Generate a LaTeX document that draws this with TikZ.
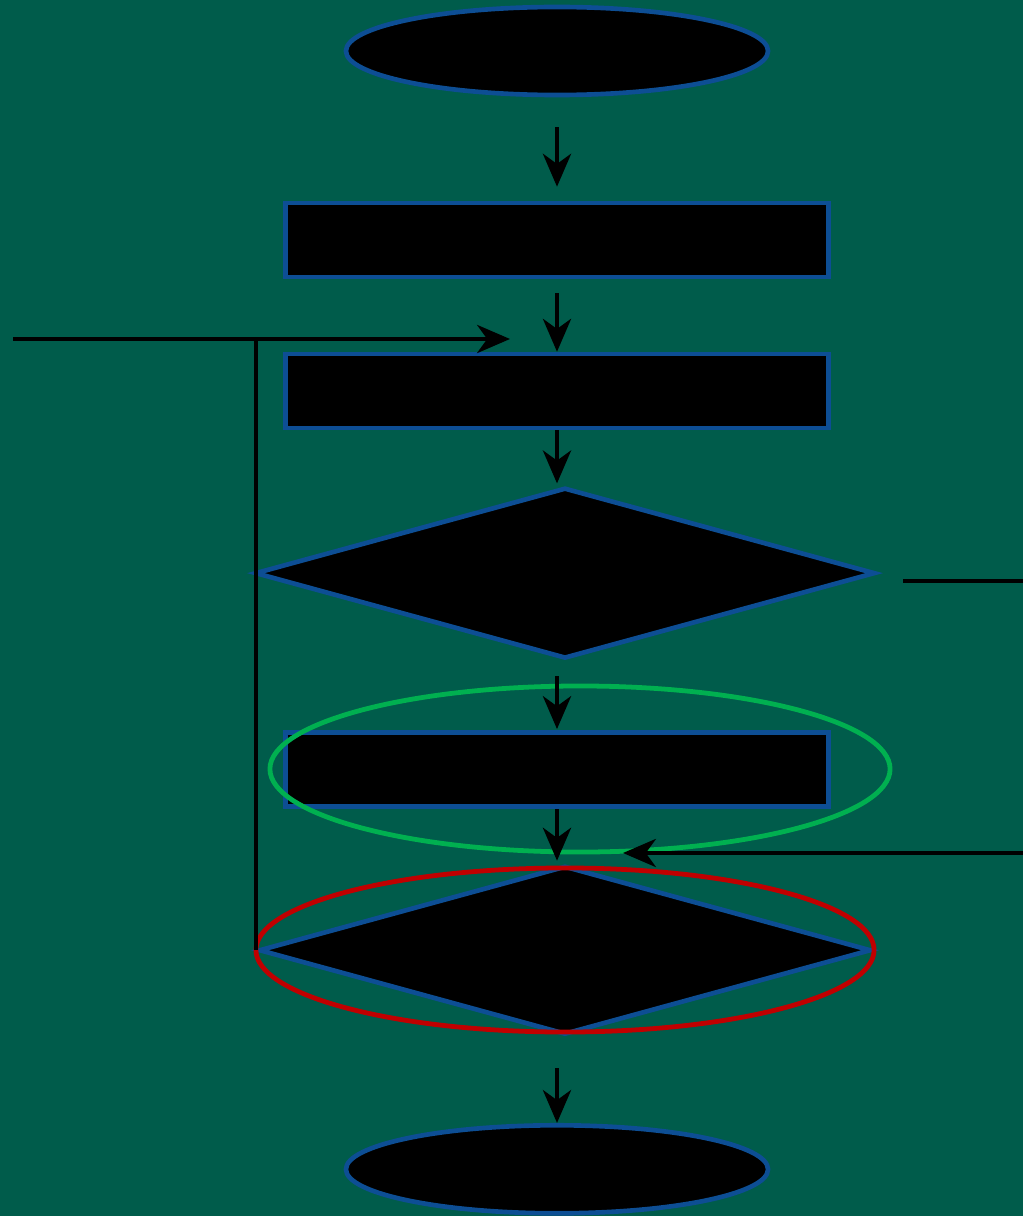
\documentclass[tikz,border=0pt]{standalone}
\usepackage{tikz}
\usetikzlibrary{shapes.geometric, positioning, arrows.meta}

\definecolor{bg}{RGB}{0,92,75}
\definecolor{edge}{RGB}{13,78,148}
\definecolor{ringg}{RGB}{0,176,80}
\definecolor{ringr}{RGB}{192,0,0}

\begin{document}
\begin{tikzpicture}[
        x=0.025cm, y=-0.025cm,
        >={Stealth[length=0.82cm, width=0.7cm, inset=0.25cm]},
        on grid,
        line width=3.4pt,
        term/.style={draw=edge, fill=black, ellipse, line width=3.3pt, minimum width=10.55cm, minimum height=2.2cm, inner sep=0pt},
        box/.style={draw=edge, fill=black, rectangle, line width=3.3pt, minimum width=13.575cm, minimum height=1.85cm, inner sep=0pt},
        cond/.style={draw=edge, fill=black, diamond, line width=3.3pt, minimum width=15.5cm, minimum height=4.27cm, inner sep=0pt},
        ring/.style={draw, ellipse, line width=3.4pt, inner sep=0pt}
    ]
        \fill[bg] (0,0) rectangle (1023,1216);
        \useasboundingbox (0,0) rectangle (1023,1216);

        \node[term] (s) at (557,51) {};
        \node[box, below=4.725cm of s] (p1) {};
        \node[box, below=3.775cm of p1] (p2) {};
        \node[cond, below=4.55cm of p2, xshift=0.2cm] (d1) {};
        \node[box, below=4.9cm of d1, xshift=-0.2cm] (p3) {};
        \node[cond, below=4.525cm of p3, xshift=0.2cm, minimum width=15.3cm, minimum height=4.22cm] (d2) {};
        \node[term, below=5.475cm of d2, xshift=-0.2cm] (t) {};

        % highlight rings
        \node[ring, draw=ringg, minimum width=15.5cm, minimum height=4.15cm] (g) at (580,769) {};
        \node[ring, draw=ringr, minimum width=15.45cm, minimum height=4.1cm] (r) at (565,950) {};

        \coordinate (o1) at (903,581);
        \coordinate (o1e) at (1023,581);
        \coordinate (o2) at (1023,853);
        \coordinate (j2) at (623,853);
        \coordinate (o3) at (13,339);
        \coordinate (j1) at (510,339);
        \coordinate (k) at (256,339);

        \draw[->, shorten <=0.75cm, shorten >=0.35cm] (s) -- (p1);
        \draw[->, shorten <=0.35cm, shorten >=0.0cm] (p1) -- (p2);
        \draw[->, shorten >=0.05cm] (p2) -- (p2.south |- d1.north);
        \draw[->, shorten <=0.38cm, shorten >=0.02cm] (d1.south -| p3.north) -- (p3);
        \draw[->, shorten <=0.02cm, shorten >=0.07cm] (p3) -- (p3.south |- d2.north);
        \draw[->, shorten <=0.78cm, shorten >=0.0cm] (d2.south -| t.north) -- (t);

        \draw (o1) -- (o1e);
        \draw[->] (o2) -- (j2);
        \draw[->] (o3) -- (j1);
        \draw (k |- d2.west) -- (k);
\end{tikzpicture}
\end{document}
